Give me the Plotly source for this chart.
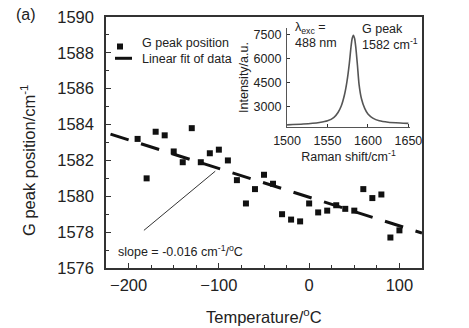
import plotly.graph_objects as go

# G peak position vs temperature
temperature = [-190, -180, -170, -160, -150, -140, -130, -120, -110, -100,
               -90, -80, -70, -60, -50, -40, -30, -20, -10, 0,
               10, 20, 30, 40, 50, 60, 70, 80, 90, 100]
g_peak = [1583.2, 1581.0, 1583.6, 1583.4, 1582.5, 1581.9, 1583.8, 1581.9, 1582.4, 1582.6,
          1582.0, 1580.9, 1579.6, 1580.4, 1581.2, 1580.7, 1579.0, 1578.7, 1578.6, 1579.6,
          1579.1, 1579.2, 1579.5, 1579.3, 1579.2, 1580.4, 1579.9, 1580.1, 1577.7, 1578.1]

# linear fit parameters
fit_slope = -0.016
fit_intercept = 1579.95
fit_x = [-220, 125]
fit_y = [fit_intercept + fit_slope * t for t in fit_x]

# Raman spectrum (inset)
raman_shift = [1500, 1520, 1540, 1550, 1558, 1563, 1567, 1571, 1574, 1577, 1579,
               1580.5, 1582, 1583.5, 1585, 1587, 1589, 1592, 1596, 1600, 1606,
               1614, 1625, 1640, 1650]
intensity = [1880, 1930, 2030, 2130, 2350, 2650, 3050, 3750, 4550, 5700, 6700,
             7250, 7450, 7250, 6700, 5600, 4400, 3500, 2900, 2550, 2300,
             2130, 2040, 1990, 1970]

x_ticks = [-200, -100, 0, 100]
y_ticks = [1576, 1578, 1580, 1582, 1584, 1586, 1588, 1590]
inset_x_ticks = [1500, 1550, 1600, 1650]
inset_y_ticks = [3000, 4500, 6000, 7500]

FONT = "Liberation Sans, Arial, sans-serif"
INK = "#222222"
AXIS = "#333333"
MARK = "#111111"

fig = go.Figure()

fig.add_trace(go.Scatter(
    x=temperature, y=g_peak, mode="markers", name="G peak position",
    marker=dict(symbol="square", size=6, color=MARK), showlegend=False,
))

fig.add_trace(go.Scatter(
    x=fit_x, y=fit_y, mode="lines", name="Linear fit of data", showlegend=False,
    line=dict(color=MARK, width=3, dash="19px,13px"),
))

fig.add_trace(go.Scatter(
    x=raman_shift, y=intensity, mode="lines", showlegend=False,
    xaxis="x2", yaxis="y2",
    line=dict(color="#555555", width=1.6, shape="spline", smoothing=0.6),
))

fig.update_layout(
    width=469, height=328,
    margin=dict(l=106, r=47, t=17, b=60, autoexpand=False),
    paper_bgcolor="white", plot_bgcolor="white",
    font=dict(family=FONT, color=INK),
    showlegend=False,
    xaxis=dict(
        range=[-225, 125], tickvals=x_ticks, ticks="inside", ticklen=5,
        tickwidth=1.2, tickcolor=AXIS, automargin=False,
        minor=dict(dtick=25, ticks="inside", ticklen=3, tickcolor=AXIS),
        showline=True, linecolor=AXIS, linewidth=1.5, mirror=True,
        showgrid=False, zeroline=False,
        tickfont=dict(size=16.5, color=INK), ticklabelstandoff=1,
    ),
    yaxis=dict(
        range=[1576, 1590], tickvals=y_ticks, ticks="inside", ticklen=5,
        tickwidth=1.2, tickcolor=AXIS, automargin=False,
        minor=dict(dtick=1, ticks="inside", ticklen=3, tickcolor=AXIS),
        showline=True, linecolor=AXIS, linewidth=1.5, mirror=True,
        showgrid=False, zeroline=False,
        tickfont=dict(size=16.5, color=INK), ticklabelstandoff=7,
    ),
    xaxis2=dict(
        domain=[0.573, 0.962], anchor="y2", range=[1500, 1652],
        tickvals=inset_x_ticks, ticks="inside", ticklen=3, tickcolor=AXIS,
        showline=True, linecolor="#555555", linewidth=1.3, automargin=False,
        showgrid=False, zeroline=False,
        tickfont=dict(size=12.5, color=INK), ticklabelstandoff=2,
        title=dict(text="Raman shift/cm<sup>-1</sup>", font=dict(size=12.5, color=INK),
                   standoff=4),
    ),
    yaxis2=dict(
        domain=[0.562, 0.956], anchor="x2", range=[1750, 7900],
        tickvals=inset_y_ticks, ticks="inside", ticklen=3, tickcolor=AXIS,
        showline=True, linecolor="#555555", linewidth=1.3, automargin=False,
        showgrid=False, zeroline=False,
        tickfont=dict(size=12.5, color=INK), ticklabelstandoff=2,
        title=dict(text="Intensity/a.u.", font=dict(size=12.5, color=INK),
                   standoff=2),
    ),
)

# legend: symbols and labels
fig.add_shape(type="rect", xref="paper", yref="paper",
              x0=0.0348, x1=0.0538, y0=0.8705, y1=0.8944,
              line=dict(width=0), fillcolor=MARK)
fig.add_shape(type="line", xref="paper", yref="paper",
              x0=0.0285, x1=0.0823, y0=0.8355, y1=0.8355,
              line=dict(color=MARK, width=3))
fig.add_annotation(
    text="G peak position", xref="paper", yref="paper", x=0.1076, y=0.895,
    xanchor="left", yanchor="middle", showarrow=False, font=dict(size=12.5, color=INK),
)
fig.add_annotation(
    text="Linear fit of data", xref="paper", yref="paper", x=0.1076, y=0.834,
    xanchor="left", yanchor="middle", showarrow=False, font=dict(size=12.5, color=INK),
)

# axis titles
fig.add_annotation(
    text="Temperature/<sup>o</sup>C", xref="paper", yref="paper",
    x=0.5, y=-0.19, showarrow=False, xanchor="center", yanchor="middle",
    font=dict(size=16.5, color=INK),
)
fig.add_annotation(
    text="G peak position/cm<sup>-1</sup>", xref="paper", yref="paper",
    x=-0.247, y=0.43, textangle=-90, showarrow=False,
    xanchor="center", yanchor="middle", font=dict(size=16.5, color=INK),
)

# panel label
fig.add_annotation(
    text="(a)", xref="paper", yref="paper", x=-0.253, y=1.01,
    xanchor="center", yanchor="middle", showarrow=False,
    font=dict(size=16, color=INK),
)

# slope callout
fig.add_shape(type="line", xref="x", yref="y",
              x0=-183, y0=1578.1, x1=-104, y1=1581.4,
              line=dict(color="#333333", width=1))
fig.add_annotation(
    text="slope = -0.016 cm<sup>-1</sup>/<sup>o</sup>C", xref="x", yref="y",
    x=-214, y=1576.95, xanchor="left", yanchor="middle", showarrow=False,
    font=dict(size=12.5, color=INK),
)

# inset labels
fig.add_annotation(
    text="λ<sub>exc</sub> =<br>488 nm", xref="x2 domain", yref="y2 domain",
    x=0.05, y=1.1, xanchor="left", yanchor="top", align="left", showarrow=False,
    font=dict(size=12.5, color=INK),
)
fig.add_annotation(
    text="G peak<br>1582 cm<sup>-1</sup>", xref="x2 domain", yref="y2 domain",
    x=0.59, y=1.08, xanchor="left", yanchor="top", align="left", showarrow=False,
    font=dict(size=12.5, color=INK),
)

fig.write_html("out.html")
